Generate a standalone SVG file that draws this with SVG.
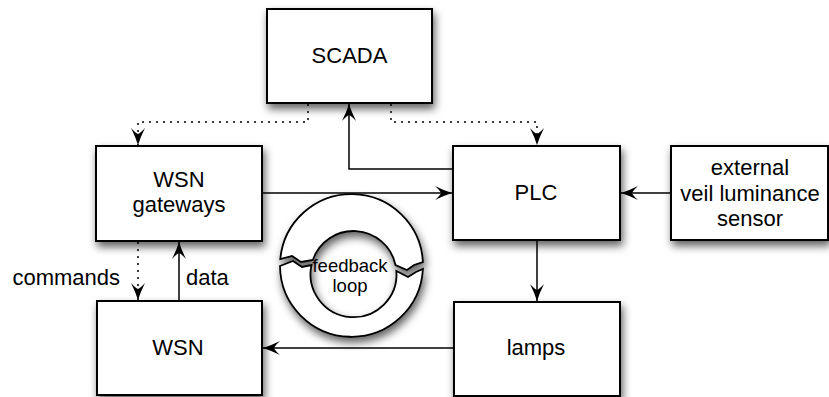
<svg xmlns="http://www.w3.org/2000/svg" width="829" height="397" viewBox="0 0 829 397">
<style>
  .box{fill:#fff;stroke:#000;stroke-width:2}
  .lbl{font-family:"Liberation Sans",Arial,Helvetica,sans-serif;font-size:22px;fill:#000;text-anchor:middle}
  .edge{fill:none;stroke:#000;stroke-width:1.5}
  .dot{stroke-dasharray:2 5}
  .ring{fill:#fff;stroke:#000;stroke-width:1.8;stroke-linejoin:miter}
</style>
<defs>
  <filter id="sh" x="-20%" y="-20%" width="150%" height="150%">
    <feDropShadow dx="2" dy="5" stdDeviation="4" flood-color="#000" flood-opacity="0.62"/>
  </filter>
  <marker id="ah" markerUnits="userSpaceOnUse" markerWidth="20" markerHeight="16" viewBox="0 -8 18 16" refX="17" refY="0" orient="auto">
    <path d="M17,0 Q9,-2.5 0,-7 Q5,-2.5 6,0 Q5,2.5 0,7 Q9,2.5 17,0 Z" fill="#000"/>
  </marker>
</defs>
<rect width="829" height="397" fill="#fff"/>

<g id="feedback-loop">
  <g filter="url(#sh)">
    <path class="ring" d="M280.3,259 A71.5,71.5 0 0 1 422.9,262 L414,265 L407,270 L395.5,265 A43,43 0 0 0 312.8,260 L301,262 L292,256 Z"/>
    <path class="ring" d="M280,266 L293,261 L302,267 L311.5,265 A43,43 0 1 0 396.4,271 L408,277 L416,272 L422.9,269 A71.5,71.5 0 0 1 280,266 Z"/>
  </g>
  <text class="lbl" x="350" y="272" style="font-size:18.5px">feedback</text>
  <text class="lbl" x="350" y="292" style="font-size:18.5px">loop</text>
</g>

<g id="scada"><rect class="box" x="267" y="9" width="165" height="94" filter="url(#sh)"/><text class="lbl" x="349.5" y="63">SCADA</text></g>
<g id="gateways"><rect class="box" x="96" y="146" width="166" height="95" filter="url(#sh)"/><text class="lbl" x="179" y="187">WSN</text><text class="lbl" x="179" y="212">gateways</text></g>
<g id="plc"><rect class="box" x="453" y="146" width="167" height="94" filter="url(#sh)"/><text class="lbl" x="536" y="200">PLC</text></g>
<g id="sensor"><rect class="box" x="671" y="146" width="157" height="94" filter="url(#sh)"/><text class="lbl" x="750" y="175">external</text><text class="lbl" x="750" y="201">veil luminance</text><text class="lbl" x="750" y="226">sensor</text></g>
<g id="wsn"><rect class="box" x="97" y="301" width="165" height="94" filter="url(#sh)"/><text class="lbl" x="178" y="355">WSN</text></g>
<g id="lamps"><rect class="box" x="454" y="302" width="166" height="94" filter="url(#sh)"/><text class="lbl" x="536" y="355">lamps</text></g>

<g id="connectors">
  <path class="edge dot" d="M308,104 V122 H138 V145" marker-end="url(#ah)"/>
  <path class="edge dot" d="M391,104 V122 H537 V145" marker-end="url(#ah)"/>
  <path class="edge" d="M452,169 H349 V104" marker-end="url(#ah)"/>
  <path class="edge" d="M263,193 H452" marker-end="url(#ah)"/>
  <path class="edge" d="M670,193 H621" marker-end="url(#ah)"/>
  <path class="edge" d="M537,241 V301" marker-end="url(#ah)"/>
  <path class="edge" d="M453,348 H263" marker-end="url(#ah)"/>
  <path class="edge dot" d="M138,242 V300" marker-end="url(#ah)"/>
  <path class="edge" d="M179,300 V242" marker-end="url(#ah)"/>
  <text class="lbl" x="120" y="285" style="text-anchor:end">commands</text>
  <text class="lbl" x="186" y="285" style="text-anchor:start">data</text>
</g>
</svg>
